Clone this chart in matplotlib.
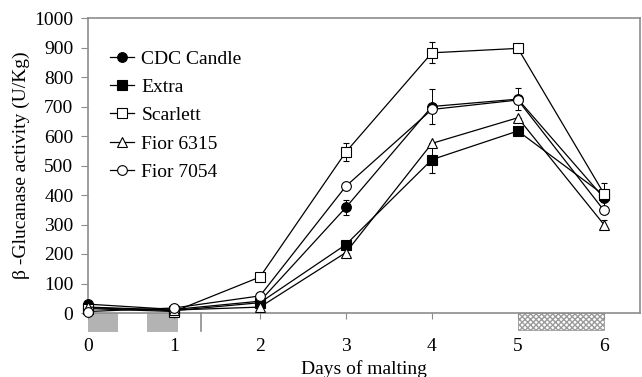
import matplotlib.pyplot as plt
from matplotlib.patches import Rectangle

plt.rcParams['font.family'] = ['Liberation Serif', 'DejaVu Serif']

# values (U/Kg)
days = [0, 1, 2, 3, 4, 5, 6]
cdc_candle = [30, 12, 40, 358, 700, 725, 390]
extra = [18, 8, 35, 232, 520, 617, 400]
scarlett = [15, 5, 122, 546, 882, 897, 405]
fior_6315 = [20, 10, 20, 205, 575, 662, 300]
fior_7054 = [5, 17, 58, 430, 690, 722, 348]

cdc_err = [0, 0, 0, 25, 58, 38, 0]
extra_err = [0, 0, 0, 0, 45, 0, 40]
scarlett_err = [0, 0, 0, 30, 35, 0, 0]
fior_6315_err = [0, 0, 0, 0, 0, 0, 15]
fior_7054_err = [0, 0, 0, 0, 0, 0, 0]

labels = ['CDC Candle', 'Extra', 'Scarlett', 'Fior 6315', 'Fior 7054']
markers = ['o', 's', 's', '^', 'o']
filled = [True, True, False, False, False]

series = [cdc_candle, extra, scarlett, fior_6315, fior_7054]
errors = [cdc_err, extra_err, scarlett_err, fior_6315_err, fior_7054_err]

fs = 14

fig = plt.figure(figsize=(6.42, 3.77), dpi=100)
ax = fig.add_axes([88 / 642, 1 - 313 / 377, (640 - 88) / 642, (313 - 18) / 377])

handles = []
for vals, err, lab, m, f in zip(series, errors, labels, markers, filled):
    c = ax.errorbar(days, vals, yerr=err, color='black', lw=0.9, marker=m,
                    markersize=6.5 if m != 'o' else 7, markerfacecolor='black' if f else 'white',
                    markeredgecolor='black', markeredgewidth=0.8, elinewidth=0.7,
                    capsize=2.5, capthick=0.7, clip_on=False, zorder=3)
    handles.append(c[0])

ax.set_xlim(0, 6.42)
ax.set_ylim(0, 1000)
ax.set_yticks(range(0, 1001, 100))
ax.set_xticks(days)

axis_grey = '#8c8c8c'
for sp in ax.spines.values():
    sp.set_color(axis_grey)
    sp.set_linewidth(1.2)

ax.tick_params(axis='y', direction='out', length=5, color=axis_grey, labelsize=fs, pad=5.5)
ax.tick_params(axis='x', direction='out', length=4, color=axis_grey, labelsize=fs, pad=14)

# steeping / kilning blocks below the axis
grey_blocks = [(0.0, 0.35), (0.69, 0.36)]
for x0, w in grey_blocks:
    ax.add_patch(Rectangle((x0, -64), w, 64, facecolor='#b3b3b3', edgecolor='none',
                           clip_on=False, zorder=1))
ax.add_patch(Rectangle((5.0, -58), 1.0, 58, facecolor='white', edgecolor='#9a9a9a',
                       hatch='xxxxxx', lw=0.6, clip_on=False, zorder=1))
ax.plot([1.32, 1.32], [0, -60], color=axis_grey, lw=1.2, clip_on=False)

ax.set_ylabel('β -Glucanase activity (U/Kg)', fontsize=fs)
ax.yaxis.set_label_coords(-0.105, 0.5)
ax.set_xlabel('Days of malting', fontsize=fs, labelpad=4)

ax.legend(handles, labels, loc='upper left', bbox_to_anchor=(110 / 642, 1 - 50 / 377),
          bbox_transform=fig.transFigure, frameon=False, fontsize=fs,
          handlelength=1.25, handletextpad=0.36, labelspacing=0.55,
          borderpad=0, borderaxespad=0)

fig.savefig('out.png', dpi=100)
